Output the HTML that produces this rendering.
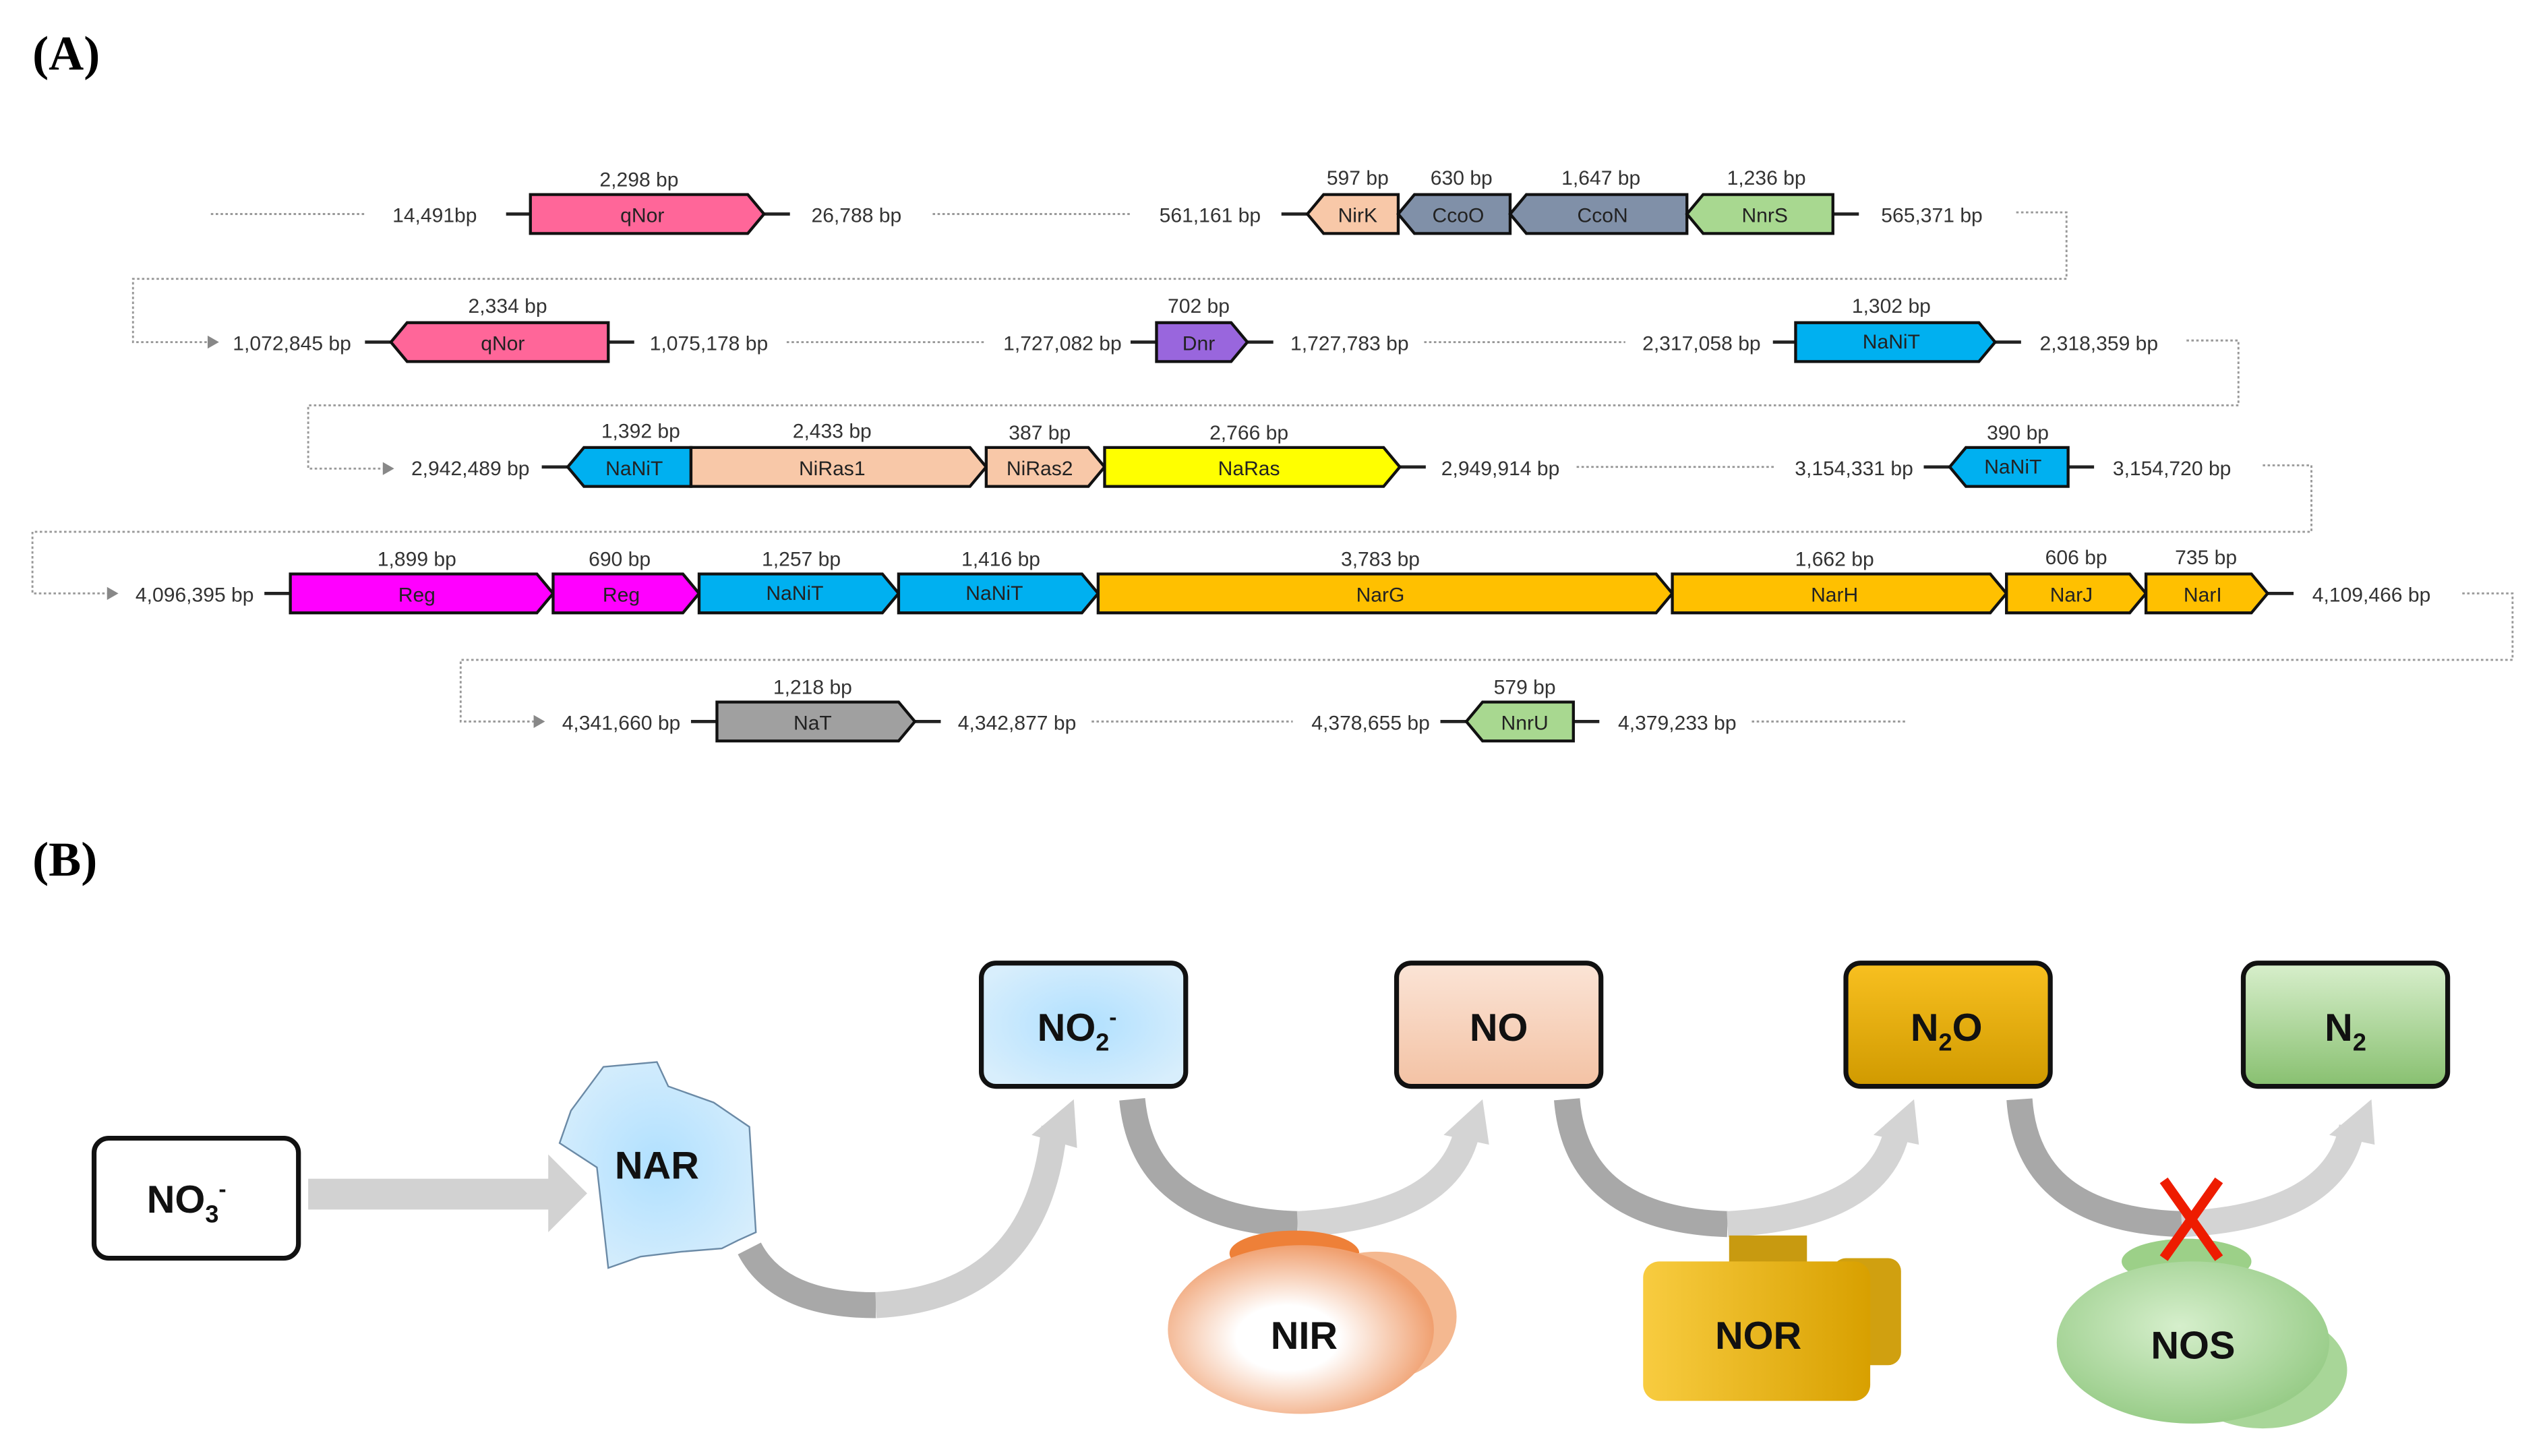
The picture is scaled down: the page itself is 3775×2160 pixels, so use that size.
<!DOCTYPE html>
<html><head><meta charset="utf-8"><style>
html,body{margin:0;padding:0;background:#fff;width:3775px;height:2160px;overflow:hidden}
svg{display:block}
.l{font-family:"Liberation Sans",sans-serif;font-size:12.5px;fill:#333;text-anchor:middle}
.g{font-family:"Liberation Sans",sans-serif;font-size:12.5px;fill:#222;text-anchor:middle}
.d{stroke:#999;stroke-width:1.2;stroke-dasharray:1.5 1.5;fill:none}
.s{stroke:#222;stroke-width:2}
.p{stroke:#111;stroke-width:1.8}
.big{font-family:"Liberation Sans",sans-serif;font-size:24px;font-weight:bold;fill:#111;text-anchor:middle}
.hd{font-family:"Liberation Serif",serif;font-size:30px;font-weight:bold;fill:#000}
</style></head><body>
<svg width="3775" height="2160" viewBox="0 0 1569 898" preserveAspectRatio="none">
<defs>
<radialGradient id="gb" cx="50%" cy="50%" r="60%"><stop offset="0" stop-color="#b0e0ff"/><stop offset="1" stop-color="#d8eefc"/></radialGradient>
<linearGradient id="gp" x1="0" y1="0" x2="0" y2="1"><stop offset="0" stop-color="#fbe4d6"/><stop offset="1" stop-color="#f3c2a4"/></linearGradient>
<linearGradient id="go" x1="0" y1="0" x2="0" y2="1"><stop offset="0" stop-color="#f8c020"/><stop offset="1" stop-color="#d09a00"/></linearGradient>
<linearGradient id="gg" x1="0" y1="0" x2="0" y2="1"><stop offset="0" stop-color="#d8efcc"/><stop offset="1" stop-color="#88c070"/></linearGradient>
<radialGradient id="gnir" cx="45%" cy="55%" r="55%"><stop offset="0.35" stop-color="#fff"/><stop offset="1" stop-color="#f0a070"/></radialGradient>
<linearGradient id="gnor" x1="0" y1="0" x2="1" y2="0"><stop offset="0" stop-color="#f8cc40"/><stop offset="1" stop-color="#d8a000"/></linearGradient>
<radialGradient id="gnos" cx="45%" cy="40%" r="60%"><stop offset="0" stop-color="#d6efcc"/><stop offset="1" stop-color="#98cc88"/></radialGradient>
</defs>
<text class="hd" x="20" y="43">(A)</text>
<text class="hd" x="20" y="540">(B)</text>

<path class="d" d="M130 132H226"/>
<text class="l" x="268" y="137">14,491bp</text>
<path class="s" d="M312 132H327M471 132H487"/>
<polygon class="p" fill="#ff6699" points="327,120 461,120 471,132 461,144 327,144"/>
<text class="g" x="396" y="137">qNor</text><text class="l" x="394" y="115">2,298 bp</text>
<text class="l" x="528" y="137">26,788 bp</text>
<path class="d" d="M575 132H697"/>
<text class="l" x="746" y="137">561,161 bp</text>
<path class="s" d="M790 132H806M1130 132H1146"/>
<polygon class="p" fill="#f8c8a8" points="806,132 816,120 862,120 862,144 816,144"/>
<polygon class="p" fill="#8090a8" points="862,132 872,120 931,120 931,144 872,144"/>
<polygon class="p" fill="#8090a8" points="931,132 941,120 1040,120 1040,144 941,144"/>
<polygon class="p" fill="#a8d890" points="1040,132 1050,120 1130,120 1130,144 1050,144"/>
<text class="g" x="837" y="137">NirK</text><text class="g" x="899" y="137">CcoO</text><text class="g" x="988" y="137">CcoN</text><text class="g" x="1088" y="137">NnrS</text>
<text class="l" x="837" y="114">597 bp</text><text class="l" x="901" y="114">630 bp</text><text class="l" x="987" y="114">1,647 bp</text><text class="l" x="1089" y="114">1,236 bp</text>
<text class="l" x="1191" y="137">565,371 bp</text>
<path class="d" d="M1243 131H1274V172H82V211H130"/>
<polygon fill="#888" points="128,207 135,211 128,215"/>

<text class="l" x="180" y="216">1,072,845 bp</text>
<path class="s" d="M225 211H241M375 211H391"/>
<polygon class="p" fill="#ff6699" points="241,211 251,199 375,199 375,223 251,223"/>
<text class="g" x="310" y="216">qNor</text><text class="l" x="313" y="193">2,334 bp</text>
<text class="l" x="437" y="216">1,075,178 bp</text>
<path class="d" d="M485 211H607"/>
<text class="l" x="655" y="216">1,727,082 bp</text>
<path class="s" d="M697 211H713M769 211H785"/>
<polygon class="p" fill="#9966dd" points="713,199 759,199 769,211 759,223 713,223"/>
<text class="g" x="739" y="216">Dnr</text><text class="l" x="739" y="193">702 bp</text>
<text class="l" x="832" y="216">1,727,783 bp</text>
<path class="d" d="M878 211H1002"/>
<text class="l" x="1049" y="216">2,317,058 bp</text>
<path class="s" d="M1093 211H1107M1230 211H1246"/>
<polygon class="p" fill="#00b0f0" points="1107,199 1220,199 1230,211 1220,223 1107,223"/>
<text class="g" x="1166" y="215">NaNiT</text><text class="l" x="1166" y="193">1,302 bp</text>
<text class="l" x="1294" y="216">2,318,359 bp</text>
<path class="d" d="M1348 210H1380V250H190V289H238"/>
<polygon fill="#888" points="236,285 243,289 236,293"/>

<text class="l" x="290" y="293">2,942,489 bp</text>
<path class="s" d="M334 288H350M863 288H879"/>
<polygon class="p" fill="#00b0f0" points="350,288 360,276 426,276 426,300 360,300"/>
<polygon class="p" fill="#f8c8a8" points="426,276 598,276 608,288 598,300 426,300"/>
<polygon class="p" fill="#f8c8a8" points="608,276 671,276 681,288 671,300 608,300"/>
<polygon class="p" fill="#ffff00" points="681,276 853,276 863,288 853,300 681,300"/>
<text class="g" x="391" y="293">NaNiT</text><text class="g" x="513" y="293">NiRas1</text><text class="g" x="641" y="293">NiRas2</text><text class="g" x="770" y="293">NaRas</text>
<text class="l" x="395" y="270">1,392 bp</text><text class="l" x="513" y="270">2,433 bp</text><text class="l" x="641" y="271">387 bp</text><text class="l" x="770" y="271">2,766 bp</text>
<text class="l" x="925" y="293">2,949,914 bp</text>
<path class="d" d="M972 288H1095"/>
<text class="l" x="1143" y="293">3,154,331 bp</text>
<path class="s" d="M1186 288H1202M1275 288H1291"/>
<polygon class="p" fill="#00b0f0" points="1202,288 1212,276 1275,276 1275,300 1212,300"/>
<text class="g" x="1241" y="292">NaNiT</text><text class="l" x="1244" y="271">390 bp</text>
<text class="l" x="1339" y="293">3,154,720 bp</text>
<path class="d" d="M1395 287H1425V328H20V366H68"/>
<polygon fill="#888" points="66,362 73,366 66,370"/>

<text class="l" x="120" y="371">4,096,395 bp</text>
<path class="s" d="M163 366H179M1398 366H1414"/>
<polygon class="p" fill="#ff00ff" points="179,354 331,354 341,366 331,378 179,378"/>
<polygon class="p" fill="#ff00ff" points="341,354 421,354 431,366 421,378 341,378"/>
<polygon class="p" fill="#00b0f0" points="431,354 544,354 554,366 544,378 431,378"/>
<polygon class="p" fill="#00b0f0" points="554,354 667,354 677,366 667,378 554,378"/>
<polygon class="p" fill="#ffc000" points="677,354 1021,354 1031,366 1021,378 677,378"/>
<polygon class="p" fill="#ffc000" points="1031,354 1227,354 1237,366 1227,378 1031,378"/>
<polygon class="p" fill="#ffc000" points="1237,354 1313,354 1323,366 1313,378 1237,378"/>
<polygon class="p" fill="#ffc000" points="1323,354 1388,354 1398,366 1388,378 1323,378"/>
<text class="g" x="257" y="371">Reg</text><text class="g" x="383" y="371">Reg</text><text class="g" x="490" y="370">NaNiT</text><text class="g" x="613" y="370">NaNiT</text><text class="g" x="851" y="371">NarG</text><text class="g" x="1131" y="371">NarH</text><text class="g" x="1277" y="371">NarJ</text><text class="g" x="1358" y="371">NarI</text>
<text class="l" x="257" y="349">1,899 bp</text><text class="l" x="382" y="349">690 bp</text><text class="l" x="494" y="349">1,257 bp</text><text class="l" x="617" y="349">1,416 bp</text><text class="l" x="851" y="349">3,783 bp</text><text class="l" x="1131" y="349">1,662 bp</text><text class="l" x="1280" y="348">606 bp</text><text class="l" x="1360" y="348">735 bp</text>
<text class="l" x="1462" y="371">4,109,466 bp</text>
<path class="d" d="M1518 366H1549V407H284V445H331"/>
<polygon fill="#888" points="329,441 336,445 329,449"/>

<text class="l" x="383" y="450">4,341,660 bp</text>
<path class="s" d="M426 445H442M564 445H580"/>
<polygon class="p" fill="#a0a0a0" points="442,433 554,433 564,445 554,457 442,457"/>
<text class="g" x="501" y="450">NaT</text><text class="l" x="501" y="428">1,218 bp</text>
<text class="l" x="627" y="450">4,342,877 bp</text>
<path class="d" d="M673 445H797"/>
<text class="l" x="845" y="450">4,378,655 bp</text>
<path class="s" d="M888 445H904M970 445H986"/>
<polygon class="p" fill="#a8d890" points="904,445 914,433 970,433 970,457 914,457"/>
<text class="g" x="940" y="450">NnrU</text><text class="l" x="940" y="428">579 bp</text>
<text class="l" x="1034" y="450">4,379,233 bp</text>
<path class="d" d="M1080 445H1175"/>

<rect x="58" y="702" width="126" height="74" rx="9" fill="#fff" stroke="#111" stroke-width="3"/>
<text class="big" x="115" y="748">NO<tspan font-size="15" dy="6">3</tspan><tspan font-size="14" dy="-16">-</tspan></text>
<rect x="190" y="727" width="150" height="19" fill="#d2d2d2"/>
<polygon points="338,712 362,736 338,760" fill="#d2d2d2"/>

<path d="M372,658 L405,655 L412,670 L440,680 L462,695 L466,760 L455,765 L445,770 L420,772 L395,775 L375,782 L368,720 L345,705 L352,685 Z" fill="url(#gb)" stroke="#6b8aa6" stroke-width="1"/>
<text class="big" x="405" y="727">NAR</text>

<rect x="605" y="594" width="126" height="76" rx="9" fill="url(#gb)" stroke="#111" stroke-width="3"/>
<text class="big" x="664" y="642">NO<tspan font-size="15" dy="6">2</tspan><tspan font-size="14" dy="-16">-</tspan></text>
<rect x="861" y="594" width="126" height="76" rx="9" fill="url(#gp)" stroke="#111" stroke-width="3"/>
<text class="big" x="924" y="642">NO</text>
<rect x="1138" y="594" width="126" height="76" rx="9" fill="url(#go)" stroke="#111" stroke-width="3"/>
<text class="big" x="1200" y="642">N<tspan font-size="15" dy="6">2</tspan><tspan dy="-6">O</tspan></text>
<rect x="1383" y="594" width="126" height="76" rx="9" fill="url(#gg)" stroke="#111" stroke-width="3"/>
<text class="big" x="1446" y="642">N<tspan font-size="15" dy="6">2</tspan></text>

<g fill="none" stroke-width="16">
<path d="M462,770 Q480,805 540,805" stroke="#a8a8a8"/>
<path d="M540,805 Q640,800 650,695" stroke="#d0d0d0"/>
<path d="M698,678 Q705,752 800,755" stroke="#a8a8a8"/>
<path d="M800,755 Q895,750 905,695" stroke="#d4d4d4"/>
<path d="M966,678 Q972,752 1065,755" stroke="#a8a8a8"/>
<path d="M1065,755 Q1160,750 1170,695" stroke="#d4d4d4"/>
<path d="M1245,678 Q1250,752 1345,755" stroke="#a8a8a8"/>
<path d="M1345,755 Q1440,750 1450,695" stroke="#d4d4d4"/>
</g>
<polygon points="636,700 662,678 664,708" fill="#d0d0d0"/>
<polygon points="890,700 914,678 918,706" fill="#d4d4d4"/>
<polygon points="1155,700 1180,678 1183,706" fill="#d4d4d4"/>
<polygon points="1436,700 1462,678 1464,706" fill="#d4d4d4"/>

<ellipse cx="798" cy="773" rx="40" ry="14" fill="#ee8038"/>
<ellipse cx="848" cy="812" rx="50" ry="40" fill="#f4b890"/>
<ellipse cx="802" cy="820" rx="82" ry="52" fill="url(#gnir)"/>
<text class="big" x="804" y="832">NIR</text>
<rect x="1066" y="762" width="48" height="22" fill="#c89a10"/>
<rect x="1130" y="776" width="42" height="66" rx="8" fill="#d0a010"/>
<rect x="1013" y="778" width="140" height="86" rx="10" fill="url(#gnor)"/>
<text class="big" x="1084" y="832">NOR</text>
<ellipse cx="1348" cy="778" rx="40" ry="14" fill="#9cd088"/>
<ellipse cx="1395" cy="845" rx="52" ry="36" fill="#a8d698"/>
<ellipse cx="1352" cy="828" rx="84" ry="50" fill="url(#gnos)"/>
<text class="big" x="1352" y="838">NOS</text>
<path d="M1334,728 L1368,776 M1368,728 L1334,776" stroke="#ee1c00" stroke-width="6"/>
</svg>
</body></html>
